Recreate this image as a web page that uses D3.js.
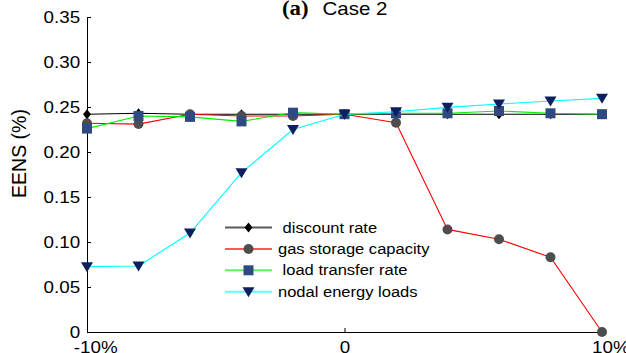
<!DOCTYPE html>
<html>
<head>
<meta charset="utf-8">
<script src="https://cdn.jsdelivr.net/npm/d3@7"></script>
<style>
  body { margin: 0; background: #fff; }
  text { font-family: "Liberation Sans", Arial, sans-serif; }
</style>
</head>
<body>
<div id="chart"></div>
<script>
const width = 626, height = 353;

// chart values
const changes = [-10, -8, -6, -4, -2, 0, 2, 4, 6, 8, 10];
const discountRate = [0.242, 0.243, 0.242, 0.242, 0.242, 0.242, 0.242, 0.242, 0.242, 0.242, 0.242];
const gasStorage = [0.232, 0.231, 0.242, 0.240, 0.240, 0.242, 0.2326, 0.114, 0.103, 0.083, 0.0];
const loadTransfer = [0.226, 0.240, 0.239, 0.234, 0.2437, 0.242, 0.243, 0.243, 0.2456, 0.243, 0.242];
const nodalLoads = [0.0726, 0.0733, 0.110, 0.177, 0.225, 0.242, 0.2448, 0.2496, 0.2533, 0.2567, 0.2596];
const seriesNames = [" discount rate", "gas storage capacity", " load transfer rate", "nodal energy loads"];
const yTicks = [0, 0.05, 0.10, 0.15, 0.20, 0.25, 0.30, 0.35];
const xTicks = [-10, 0, 10];

const stretch = 1.14; // the source figure is a bit wider than tall

const x = d3.scaleLinear().domain([-10, 10]).range([87, 602]);
const y = d3.scaleLinear().domain([0, 0.35]).range([332, 17]);

const svg = d3.select("#chart").append("svg")
    .attr("width", width)
    .attr("height", height);

const series = [
  {name: seriesNames[0], values: discountRate, color: "#000000", marker: "diamond", fill: "#000000"},
  {name: seriesNames[1], values: gasStorage, color: "#ff0000", marker: "circle", fill: "#4d4d4d"},
  {name: seriesNames[2], values: loadTransfer, color: "#00ee00", marker: "square", fill: "#2f4a80"},
  {name: seriesNames[3], values: nodalLoads, color: "#00ffff", marker: "triangle", fill: "#0c2060"}
];

const markerPath = {
  diamond: "M0,-5L4,0L0,5L-4,0Z",
  circle: d3.symbol(d3.symbolCircle, 78)(),
  square: "M-5,-5H5V5H-5Z",
  triangle: "M-6,-4.5L6,-4.5L0,5.5Z"
};

// axes
const yAxis = svg.append("g")
    .attr("transform", "translate(" + x(-10) + ",0)")
    .call(d3.axisLeft(y).tickValues(yTicks).tickSizeInner(-4).tickSizeOuter(0).tickPadding(6)
      .tickFormat(d => d === 0 ? "0" : d3.format(".2f")(d)));

const xAxis = svg.append("g")
    .attr("transform", "translate(0," + y(0) + ")")
    .call(d3.axisBottom(x).tickValues(xTicks).tickSizeInner(-4).tickSizeOuter(0).tickPadding(9)
      .tickFormat(d => d === 0 ? "0" : d + "%"));

svg.selectAll(".domain, .tick line").attr("stroke", "#000").attr("stroke-width", 1);
svg.selectAll(".tick text")
    .attr("fill", "#000")
    .style("font-size", "16.5px")
    .attr("transform", "scale(" + stretch + ",1)");
xAxis.selectAll(".tick text")
    .attr("dx", d => d === 0 ? 0 : "0.44em");

// lines and markers
const line = d3.line()
    .x((d, i) => x(changes[i]))
    .y(d => y(d));

series.forEach(s => {
  svg.append("path")
      .datum(s.values)
      .attr("fill", "none")
      .attr("stroke", s.color)
      .attr("stroke-width", 1.1)
      .attr("d", line);
  svg.append("g").selectAll("path")
      .data(s.values)
      .join("path")
      .attr("d", markerPath[s.marker])
      .attr("fill", s.fill)
      .attr("transform", (d, i) => "translate(" + x(changes[i]) + "," + y(d) + ")");
});

// legend
const legend = svg.append("g").attr("transform", "translate(225,227.5)");
series.forEach((s, i) => {
  const row = legend.append("g").attr("transform", "translate(0," + (i * 21.4) + ")");
  row.append("line")
      .attr("x1", 0).attr("x2", 47)
      .attr("stroke", s.color)
      .attr("stroke-opacity", 0.65)
      .attr("stroke-width", 2);
  row.append("path")
      .attr("d", markerPath[s.marker])
      .attr("fill", s.fill)
      .attr("transform", "translate(23.5,0)");
  row.append("text")
      .attr("transform", "translate(53,0) scale(" + stretch + ",1)")
      .attr("dy", "0.35em")
      .style("font-size", "14.5px")
      .style("white-space", "pre")
      .text(s.name);
});

// y label
svg.append("text")
    .attr("transform", "translate(26,153.5) rotate(-90)")
    .attr("text-anchor", "middle")
    .style("font-size", "19.5px")
    .text("EENS (%)");

// title
const title = svg.append("g").attr("transform", "translate(282,15) scale(" + stretch + ",1)");
title.append("text")
    .style("font-family", "'Liberation Serif', 'Times New Roman', serif")
    .style("font-weight", "bold")
    .style("font-size", "20px")
    .text("(a)");
title.append("text")
    .attr("x", 35.5)
    .style("font-size", "18px")
    .text("Case 2");
</script>
</body>
</html>
